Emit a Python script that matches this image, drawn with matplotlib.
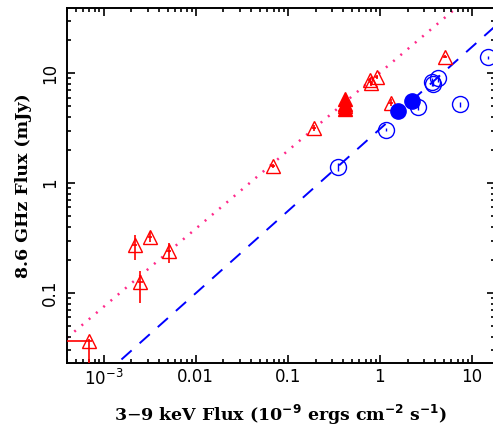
import numpy as np
import matplotlib
matplotlib.use("Agg")
import matplotlib.pyplot as plt
from matplotlib.ticker import LogLocator, FixedLocator, FixedFormatter, NullFormatter

# red open triangles: x, y and error limits
tri_x = [6.9e-4, 2.17e-3, 3.16e-3, 5.09e-3, 2.5e-3, 0.069, 0.192, 0.42, 0.78, 0.92, 0.81, 1.31, 5.1]
tri_y = [0.0366, 0.273, 0.325, 0.243, 0.127, 1.43, 3.14, 5.0, 8.6, 9.3, 8.06, 5.37, 14.1]
tri_xlo = [1e-5, 2.05e-3, 3.0e-3, 4.8e-3, 2.35e-3, 0.066, 0.182, 0.40, 0.75, 0.88, 0.78, 1.24, 4.85]
tri_xhi = [7.5e-4, 2.3e-3, 3.35e-3, 5.4e-3, 2.65e-3, 0.073, 0.203, 0.44, 0.81, 0.96, 0.84, 1.38, 5.35]
tri_ylo = [1e-3, 0.20, 0.29, 0.188, 0.081, 1.36, 2.95, 4.8, 8.2, 8.9, 7.7, 5.0, 13.6]
tri_yhi = [0.038, 0.336, 0.36, 0.285, 0.16, 1.50, 3.35, 5.2, 9.0, 9.7, 8.4, 5.8, 14.6]

# red filled triangles
ftri_x = [0.42, 0.42, 0.42]
ftri_y = [5.8, 5.2, 4.7]

# blue open circles
circ_x = [0.352, 1.18, 2.6, 3.65, 4.3, 3.8, 7.4, 14.8]
circ_y = [1.41, 3.07, 4.87, 8.3, 8.95, 8.0, 5.2, 13.9]
circ_ylo = [1.30, 2.95, 4.65, 7.6, 8.3, 7.6, 4.95, 13.5]
circ_yhi = [1.53, 3.2, 5.1, 9.0, 9.6, 8.4, 5.45, 14.3]

# blue filled circles
fcirc_x = [1.58, 2.21]
fcirc_y = [4.52, 5.6]

# fitted relations  y = norm * x**slope
pink_norm, pink_slope = 10.1, 0.71
blue_norm, blue_slope = 3.1, 0.747

xlim = (4.0e-4, 17.8)
ylim = (0.0231, 39.0)

xticks = [1e-3, 0.01, 0.1, 1, 10]
xticklabels = [r"10$^{-3}$", "0.01", "0.1", "1", "10"]
yticks = [0.1, 1, 10]
yticklabels = ["0.1", "1", "10"]

fig = plt.figure(figsize=(4.93, 4.32), dpi=100)
ax = fig.add_axes([0.136, 0.16, 0.868, 0.821])
ax.set_xscale("log")
ax.set_yscale("log")
ax.set_xlim(*xlim)
ax.set_ylim(*ylim)

xx = np.logspace(np.log10(xlim[0]), np.log10(xlim[1]), 200)
ax.plot(xx, pink_norm * xx ** pink_slope, color="#ff2a8a", linestyle=(0, (0.8, 3.0)),
        linewidth=1.8, zorder=1)
ax.plot(xx, blue_norm * xx ** blue_slope, color="blue", linestyle=(0, (7, 5.5)),
        linewidth=1.4, zorder=1)

tx = np.array(tri_x)
ty = np.array(tri_y)
ax.errorbar(tx, ty,
            xerr=[tx - np.array(tri_xlo), np.array(tri_xhi) - tx],
            yerr=[ty - np.array(tri_ylo), np.array(tri_yhi) - ty],
            fmt="^", ms=10, mfc="none", mec="red", mew=1.0, ecolor="red",
            elinewidth=1.2, capsize=0, zorder=3)
ax.plot(ftri_x, ftri_y, "^", ms=10, color="red", zorder=4)

cx = np.array(circ_x)
cy = np.array(circ_y)
ax.errorbar(cx, cy, yerr=[cy - np.array(circ_ylo), np.array(circ_yhi) - cy],
            fmt="o", ms=11.5, mfc="none", mec="blue", mew=1.0, ecolor="blue",
            elinewidth=1.0, capsize=0, zorder=3)
ax.plot(fcirc_x, fcirc_y, "o", ms=11, color="blue", zorder=4)

# ticks
ax.xaxis.set_major_locator(FixedLocator(xticks))
ax.xaxis.set_major_formatter(FixedFormatter(xticklabels))
ax.yaxis.set_major_locator(FixedLocator(yticks))
ax.yaxis.set_major_formatter(FixedFormatter(yticklabels))
ax.xaxis.set_minor_locator(LogLocator(base=10, subs=np.arange(2, 10), numticks=20))
ax.yaxis.set_minor_locator(LogLocator(base=10, subs=np.arange(2, 10), numticks=20))
ax.xaxis.set_minor_formatter(NullFormatter())
ax.yaxis.set_minor_formatter(NullFormatter())
ax.tick_params(which="both", direction="in", top=True, right=True, width=1.2,
               labelsize=12, colors="black")
ax.tick_params(which="major", length=6)
ax.tick_params(which="minor", length=3)
ax.tick_params(axis="x", pad=4)
for lab in ax.get_yticklabels():
    lab.set_rotation(90)
    lab.set_va("center")
ax.tick_params(axis="y", pad=6)
for sp in ax.spines.values():
    sp.set_linewidth(1.4)

ax.set_xlabel(r"3$-$9 keV Flux (10$^{\mathbf{-9}}$ ergs cm$^{\mathbf{-2}}$ s$^{\mathbf{-1}}$)",
              family="DejaVu Serif", fontweight="bold", fontsize=12.5, labelpad=10)
ax.set_ylabel("8.6 GHz Flux (mJy)", family="DejaVu Serif", fontweight="bold",
              fontsize=12.5, labelpad=6)

fig.savefig("out.png", dpi=100)
